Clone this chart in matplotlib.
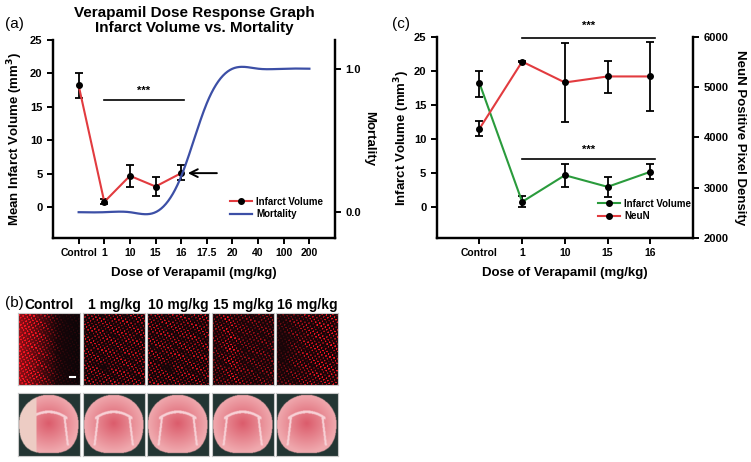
import numpy as np
import matplotlib
matplotlib.use("Agg")
import matplotlib.pyplot as plt
from matplotlib.lines import Line2D

plt.rcParams['font.family'] = ['Liberation Sans', 'DejaVu Sans']
plt.rcParams['font.weight'] = 'bold'
plt.rcParams['axes.labelweight'] = 'bold'
NARROW = ['Liberation Sans Narrow', 'Liberation Sans', 'DejaVu Sans']

# panel (a)
doses_a = ["Control", "1", "10", "15", "16", "17.5", "20", "40", "100", "200"]
infarct_a = [18.2, 0.8, 4.7, 3.1, 5.1]
infarct_a_err_lo = [1.9, 0.35, 1.6, 1.4, 1.0]
infarct_a_err_hi = [1.8, 0.45, 1.6, 1.35, 1.2]
mortality = [0.0, 0.0, 0.0, 0.0, 0.25, 0.76, 1.0, 1.0, 1.0, 1.0]

# panel (c)
doses_c = ["Control", "1", "10", "15", "16"]
infarct_c = [18.2, 0.8, 4.7, 3.0, 5.2]
infarct_c_err_lo = [2.0, 0.8, 1.7, 1.45, 1.1]
infarct_c_err_hi = [1.8, 0.85, 1.6, 1.4, 1.1]
neun = [4170, 5505, 5090, 5210, 5210]
neun_err_lo = [150, 15, 790, 320, 680]
neun_err_hi = [145, 15, 790, 310, 680]

# panel (b)
panel_b_titles = ["Control", "1 mg/kg", "10 mg/kg", "15 mg/kg", "16 mg/kg"]

RED = "#e23b3f"
BLUE = "#3c4fa6"
GREEN = "#2a9b3c"


def natural_spline(x, y, xs):
    # smooth line through the points, like the original graphing package draws it
    x = np.asarray(x, float); y = np.asarray(y, float)
    n = len(x); h = np.diff(x)
    A = np.zeros((n, n)); r = np.zeros(n)
    A[0, 0] = A[-1, -1] = 1
    for i in range(1, n - 1):
        A[i, i - 1] = h[i - 1]; A[i, i] = 2 * (h[i - 1] + h[i]); A[i, i + 1] = h[i]
        r[i] = 3 * ((y[i + 1] - y[i]) / h[i] - (y[i] - y[i - 1]) / h[i - 1])
    c = np.linalg.solve(A, r)
    b = (y[1:] - y[:-1]) / h - h * (2 * c[:-1] + c[1:]) / 3
    d = (c[1:] - c[:-1]) / (3 * h)
    idx = np.clip(np.searchsorted(x, xs, side="right") - 1, 0, n - 2)
    t = xs - x[idx]
    return y[idx] + b[idx] * t + c[idx] * t ** 2 + d[idx] * t ** 3


def style_axes(ax):
    ax.spines['top'].set_visible(False)
    for s in ['left', 'bottom', 'right']:
        ax.spines[s].set_linewidth(1.6)
    ax.tick_params(width=1.4, length=4, labelsize=8)


fig = plt.figure(figsize=(7.51, 4.62), dpi=100)

# ---------------- (a)
ax = fig.add_axes([0.0706, 0.4848, 0.3755, 0.4286])
style_axes(ax)
xa = np.arange(len(doses_a))
ax.errorbar(xa[:len(infarct_a)], infarct_a, yerr=[infarct_a_err_lo, infarct_a_err_hi],
            color=RED, lw=1.5, marker="o", ms=4, mfc="black", mec="black",
            ecolor="black", elinewidth=1.3, capsize=3, capthick=1.3, zorder=3)
ax.set_xlim(-1, 10)
ax.set_ylim(-4.6, 25)
ax.set_yticks([0, 5, 10, 15, 20, 25])
ax.set_xticks(xa)
ax.set_xticklabels(doses_a, fontsize=7.5)
ax.set_ylabel("Mean Infarct Volume (mm$^\\mathbf{3}$)", fontsize=9.5, labelpad=4)
ax.set_xlabel("Dose of Verapamil (mg/kg)", fontsize=9.5, labelpad=6)
ax.plot([1, 4.1], [16.0, 16.0], color="black", lw=1.2)
ax.text(2.55, 16.6, "***", ha="center", va="bottom", fontsize=8)
ax.annotate("", xy=(4.15, 5.1), xytext=(5.5, 5.1),
            arrowprops=dict(arrowstyle="->", color="black", lw=1.4, mutation_scale=14))
ax.set_title("Verapamil Dose Response Graph\nInfarct Volume vs. Mortality",
             fontsize=11, fontweight="bold", pad=6, linespacing=1.05)

ax2 = ax.twinx()
style_axes(ax2)
xs = np.linspace(0, len(doses_a) - 1, 300)
ax2.plot(xs, natural_spline(xa, mortality, xs), color=BLUE, lw=1.6)
ax2.set_ylim(-0.18, 1.2)
ax2.set_yticks([0.0, 1.0])
ax2.set_yticklabels(["0.0", "1.0"])
ax2.set_ylabel("Mortality", fontsize=9.5, rotation=270, labelpad=10)

h_a = [Line2D([], [], color=RED, lw=1.5, marker="o", ms=4, mfc="black", mec="black"),
       Line2D([], [], color=BLUE, lw=1.6)]
ax2.legend(h_a, ["Infarct Volume", "Mortality"], loc="lower left",
           bbox_to_anchor=(0.61, 0.07), frameon=False, fontsize=7,
           handlelength=2.3, handletextpad=0.4, labelspacing=0.25, borderpad=0)

fig.text(0.007, 0.948, "(a)", fontsize=11, fontweight="normal", va="center")

# ---------------- (c)
axc = fig.add_axes([0.5815, 0.4848, 0.3413, 0.4358])
style_axes(axc)
xc = np.arange(len(doses_c))
axc.errorbar(xc, infarct_c, yerr=[infarct_c_err_lo, infarct_c_err_hi],
             color=GREEN, lw=1.5, marker="o", ms=4, mfc="black", mec="black",
             ecolor="black", elinewidth=1.3, capsize=3, capthick=1.3, zorder=3)
axc.set_xlim(-1, 5)
axc.set_ylim(-4.5, 25)
axc.set_yticks([0, 5, 10, 15, 20, 25])
axc.set_xticks(xc)
axc.set_xticklabels(doses_c, fontsize=7.5)
axc.set_ylabel("Infarct Volume (mm$^\\mathbf{3}$)", fontsize=9.5, labelpad=1)
axc.set_xlabel("Dose of Verapamil (mg/kg)", fontsize=9.5, labelpad=6)
axc.plot([1, 4.1], [7.1, 7.1], color="black", lw=1.2)
axc.text(2.55, 7.7, "***", ha="center", va="bottom", fontsize=8)

axc2 = axc.twinx()
style_axes(axc2)
axc2.errorbar(xc, neun, yerr=[neun_err_lo, neun_err_hi],
              color=RED, lw=1.5, marker="o", ms=4, mfc="black", mec="black",
              ecolor="black", elinewidth=1.3, capsize=3, capthick=1.3, zorder=3)
axc2.set_ylim(2000, 6000)
axc2.set_yticks([2000, 3000, 4000, 5000, 6000])
axc2.set_ylabel("NeuN Positive Pixel Density", fontsize=9.5, rotation=270, labelpad=13)
axc2.plot([1, 4.1], [5980, 5980], color="black", lw=1.2)
axc2.text(2.55, 6120, "***", ha="center", va="bottom", fontsize=8, clip_on=False)

h_c = [Line2D([], [], color=GREEN, lw=1.5, marker="o", ms=4, mfc="black", mec="black"),
       Line2D([], [], color=RED, lw=1.5, marker="o", ms=4, mfc="black", mec="black")]
axc2.legend(h_c, ["Infarct Volume", "NeuN"], loc="lower left",
            bbox_to_anchor=(0.61, 0.06), frameon=False, fontsize=7,
            handlelength=2.3, handletextpad=0.4, labelspacing=0.25, borderpad=0)

fig.text(0.522, 0.948, "(c)", fontsize=11, fontweight="normal", va="center")

# ---------------- (b) image tiles
col_x = [18, 83, 147, 212, 276]
tile_w = 62
gy, gx = np.mgrid[0:72, 0:62].astype(float)


def micro_tile(k):
    # fluorescent NeuN staining: red nuclei on black
    p = np.sin(1.45 * gx + 0.4 * gy + k) * np.sin(1.3 * gy - 0.3 * gx + 0.5 * k)
    q = np.sin(0.53 * gx + 1.1 * k) * np.sin(0.61 * gy + 0.3 * k) + np.sin(0.29 * gx - 0.47 * gy)
    dots = np.clip((p - 0.15) * 2.2, 0, 1) * np.clip(0.8 + 0.35 * q, 0, 1)
    u = gx / 61.0
    v_ = gy / 71.0
    if k == 0:
        dens = np.clip(1.3 - 1.6 * u, 0.1, 1)
        base = 0.45 * np.clip(1 - 1.6 * u, 0, 1) + 0.12 * np.clip(1 - u, 0, 1)
    elif k == 3:
        dens = 0.6 + 0.5 * np.exp(-((u - 0.25 - 0.1 * v_) / 0.1) ** 2)
        base = 0.05
    elif k == 4:
        dens = np.clip(0.35 + 0.9 * u, 0, 1) * (1 - 0.75 * np.exp(-((u - 0.1) / 0.12) ** 2 - ((v_ - 0.45) / 0.25) ** 2))
        base = 0.05
    else:
        hole = 1 - 0.9 * np.exp(-((u - 0.35) / 0.08) ** 2 - ((v_ - 0.75) / 0.07) ** 2)
        dens = 0.85 * hole
        base = 0.03
    val = np.clip(base + dots * dens, 0, 1)
    img = np.zeros(gx.shape + (3,))
    img[..., 0] = 0.05 + 0.92 * val
    img[..., 1] = 0.02 + 0.06 * val
    img[..., 2] = 0.03 + 0.1 * val
    return img


hy, hx = np.mgrid[0:126, 0:124].astype(float) / 2.0


def brain_tile(k):
    # TTC stained coronal section
    u = (hx - 30.5) / 30.0
    w = (hy - 30) / 30.0
    top = (u / 0.99) ** 2 + (np.minimum(w, 0) / 0.95) ** 2 < 1.0
    bot = (np.abs(u) / 0.99) ** 3 + (np.maximum(w, 0) / 1.0) ** 2.4 < 1.0
    inside = top & bot
    img = np.zeros(hx.shape + (3,))
    img[...] = [0.14, 0.21, 0.2]
    r = np.clip(np.sqrt((u / 0.98) ** 2 + (w / 0.95) ** 2), 0, 1)
    pink = np.stack([0.86 + 0.08 * r, 0.36 + 0.3 * r, 0.42 + 0.26 * r], -1)
    img[inside] = pink[inside]
    # white matter: arched corpus callosum and lateral tracts
    arch = inside & (np.abs(w - (-0.38 + 0.55 * u ** 2)) < 0.045) & (np.abs(u) < 0.62)
    lat = inside & (np.abs(np.abs(u) - (0.55 + 0.12 * w)) < 0.035) & (w > -0.25) & (w < 0.75)
    img[arch | lat] = [0.97, 0.82, 0.84]
    if k == 0:
        pale = inside & (u < -0.4)
        img[pale] = [0.93, 0.8, 0.77]
    return img


for k, title in enumerate(panel_b_titles):
    left = col_x[k] / 751
    axm = fig.add_axes([left, 1 - 385 / 462, tile_w / 751, 72 / 462])
    axm.imshow(micro_tile(k), aspect="auto", interpolation="nearest",
               extent=[0, 62, 72, 0])
    axm.set_xticks([]); axm.set_yticks([])
    for s in axm.spines.values():
        s.set_color("#c8c8c8"); s.set_linewidth(0.8)
    if k == 0:
        axm.plot([52, 57], [64, 64], color="white", lw=1.5)
    axm.set_title(title, fontsize=10, fontweight="bold", pad=3, family=NARROW)

    axb = fig.add_axes([left, 1 - 456 / 462, tile_w / 751, 63 / 462])
    axb.imshow(brain_tile(k), aspect="auto", interpolation="bilinear")
    axb.set_xticks([]); axb.set_yticks([])
    for s in axb.spines.values():
        s.set_color("#c8c8c8"); s.set_linewidth(0.8)

fig.text(0.007, 1 - 303 / 462, "(b)", fontsize=11, fontweight="normal", va="center")

fig.savefig("out.png", dpi=100)
